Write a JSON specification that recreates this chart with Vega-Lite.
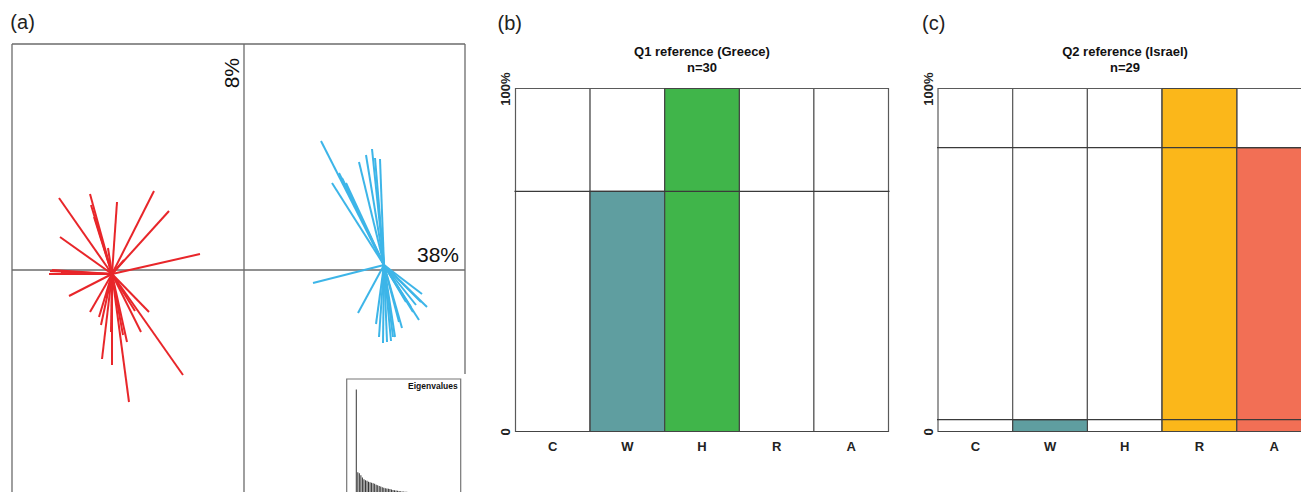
{
  "$schema": "https://vega.github.io/schema/vega-lite/v6.json",
  "padding": {"left": 10, "top": 13, "right": 0, "bottom": 0},
  "spacing": 30.5,
  "background": "white",
  "config": {"view": {"stroke": null}, "font": "Liberation Sans"},
  "datasets": {
    "one": [{}],
    "loadings": [
      {"g": "Greece", "cx": -1.32, "cy": -0.04, "x": -1.85, "y": 0.72}, {"g": "Greece", "cx": -1.32, "cy": -0.04, "x": -1.54, "y": 0.76},
      {"g": "Greece", "cx": -1.32, "cy": -0.04, "x": -1.53, "y": 0.65}, {"g": "Greece", "cx": -1.32, "cy": -0.04, "x": -1.27, "y": 0.68},
      {"g": "Greece", "cx": -1.32, "cy": -0.04, "x": -0.90, "y": 0.79}, {"g": "Greece", "cx": -1.32, "cy": -0.04, "x": -0.75, "y": 0.59},
      {"g": "Greece", "cx": -1.32, "cy": -0.04, "x": -1.84, "y": 0.33}, {"g": "Greece", "cx": -1.32, "cy": -0.04, "x": -0.44, "y": 0.16},
      {"g": "Greece", "cx": -1.32, "cy": -0.04, "x": -1.94, "y": -0.01}, {"g": "Greece", "cx": -1.32, "cy": -0.04, "x": -1.92, "y": 0.00},
      {"g": "Greece", "cx": -1.32, "cy": -0.04, "x": -1.95, "y": -0.04}, {"g": "Greece", "cx": -1.32, "cy": -0.04, "x": -1.75, "y": -0.26},
      {"g": "Greece", "cx": -1.32, "cy": -0.04, "x": -1.54, "y": -0.42}, {"g": "Greece", "cx": -1.32, "cy": -0.04, "x": -1.45, "y": -0.47},
      {"g": "Greece", "cx": -1.32, "cy": -0.04, "x": -1.43, "y": -0.55}, {"g": "Greece", "cx": -1.32, "cy": -0.04, "x": -1.42, "y": -0.89},
      {"g": "Greece", "cx": -1.32, "cy": -0.04, "x": -1.32, "y": -0.95}, {"g": "Greece", "cx": -1.32, "cy": -0.04, "x": -1.15, "y": -1.32},
      {"g": "Greece", "cx": -1.32, "cy": -0.04, "x": -1.17, "y": -0.72}, {"g": "Greece", "cx": -1.32, "cy": -0.04, "x": -1.21, "y": -0.65},
      {"g": "Greece", "cx": -1.32, "cy": -0.04, "x": -0.95, "y": -0.42}, {"g": "Greece", "cx": -1.32, "cy": -0.04, "x": -1.09, "y": -0.41},
      {"g": "Greece", "cx": -1.32, "cy": -0.04, "x": -0.61, "y": -1.05}, {"g": "Greece", "cx": -1.32, "cy": -0.04, "x": -1.36, "y": 0.22},
      {"g": "Greece", "cx": -1.32, "cy": -0.04, "x": -1.20, "y": 0.10}, {"g": "Greece", "cx": -1.32, "cy": -0.04, "x": -1.50, "y": 0.53},
      {"g": "Greece", "cx": -1.32, "cy": -0.04, "x": -1.33, "y": -0.62}, {"g": "Greece", "cx": -1.32, "cy": -0.04, "x": -1.83, "y": -0.03},
      {"g": "Greece", "cx": -1.32, "cy": -0.04, "x": -1.03, "y": -0.62}, {"g": "Greece", "cx": -1.32, "cy": -0.04, "x": -1.38, "y": -0.28},
      {"g": "Israel", "cx": 1.40, "cy": 0.05, "x": 0.77, "y": 1.29}, {"g": "Israel", "cx": 1.40, "cy": 0.05, "x": 1.28, "y": 1.21},
      {"g": "Israel", "cx": 1.40, "cy": 0.05, "x": 1.22, "y": 1.15}, {"g": "Israel", "cx": 1.40, "cy": 0.05, "x": 1.15, "y": 1.08},
      {"g": "Israel", "cx": 1.40, "cy": 0.05, "x": 1.36, "y": 1.11}, {"g": "Israel", "cx": 1.40, "cy": 0.05, "x": 0.95, "y": 0.97},
      {"g": "Israel", "cx": 1.40, "cy": 0.05, "x": 0.88, "y": 0.87}, {"g": "Israel", "cx": 1.40, "cy": 0.05, "x": 0.69, "y": -0.13},
      {"g": "Israel", "cx": 1.40, "cy": 0.05, "x": 1.14, "y": -0.43}, {"g": "Israel", "cx": 1.40, "cy": 0.05, "x": 1.32, "y": -0.54},
      {"g": "Israel", "cx": 1.40, "cy": 0.05, "x": 1.39, "y": -0.73}, {"g": "Israel", "cx": 1.40, "cy": 0.05, "x": 1.47, "y": -0.71},
      {"g": "Israel", "cx": 1.40, "cy": 0.05, "x": 1.51, "y": -0.67}, {"g": "Israel", "cx": 1.40, "cy": 0.05, "x": 1.58, "y": -0.58},
      {"g": "Israel", "cx": 1.40, "cy": 0.05, "x": 1.75, "y": -0.50}, {"g": "Israel", "cx": 1.40, "cy": 0.05, "x": 1.83, "y": -0.37},
      {"g": "Israel", "cx": 1.40, "cy": 0.05, "x": 1.78, "y": -0.24}, {"g": "Israel", "cx": 1.40, "cy": 0.05, "x": 1.72, "y": -0.35},
      {"g": "Israel", "cx": 1.40, "cy": 0.05, "x": 1.31, "y": 1.12}, {"g": "Israel", "cx": 1.40, "cy": 0.05, "x": 0.98, "y": 0.92},
      {"g": "Israel", "cx": 1.40, "cy": 0.05, "x": 1.67, "y": -0.37}, {"g": "Israel", "cx": 1.40, "cy": 0.05, "x": 1.62, "y": -0.32},
      {"g": "Israel", "cx": 1.40, "cy": 0.05, "x": 1.55, "y": -0.52}, {"g": "Israel", "cx": 1.40, "cy": 0.05, "x": 1.43, "y": -0.72},
      {"g": "Israel", "cx": 1.40, "cy": 0.05, "x": 1.02, "y": 0.87}, {"g": "Israel", "cx": 1.40, "cy": 0.05, "x": 1.69, "y": -0.42},
      {"g": "Israel", "cx": 1.40, "cy": 0.05, "x": 1.77, "y": -0.32}, {"g": "Israel", "cx": 1.40, "cy": 0.05, "x": 1.49, "y": -0.67},
      {"g": "Israel", "cx": 1.40, "cy": 0.05, "x": 1.35, "y": -0.67}
    ],
    "eigen": [
      {"k": 1, "ev": 38}, {"k": 2, "ev": 8.0}, {"k": 3, "ev": 7.6}, {"k": 4, "ev": 6.9}, {"k": 5, "ev": 6.1},
      {"k": 6, "ev": 5.5}, {"k": 7, "ev": 5.1}, {"k": 8, "ev": 4.9}, {"k": 9, "ev": 4.6}, {"k": 10, "ev": 4.4},
      {"k": 11, "ev": 4.2}, {"k": 12, "ev": 4.0}, {"k": 13, "ev": 3.8}, {"k": 14, "ev": 3.5}, {"k": 15, "ev": 3.3},
      {"k": 16, "ev": 3.0}, {"k": 17, "ev": 2.8}, {"k": 18, "ev": 2.6}, {"k": 19, "ev": 2.4}, {"k": 20, "ev": 2.2},
      {"k": 21, "ev": 2.1}, {"k": 22, "ev": 2.0}, {"k": 23, "ev": 1.9}, {"k": 24, "ev": 1.7}, {"k": 25, "ev": 1.6},
      {"k": 26, "ev": 1.5}, {"k": 27, "ev": 1.4}, {"k": 28, "ev": 1.3}, {"k": 29, "ev": 1.2}, {"k": 30, "ev": 1.1},
      {"k": 31, "ev": 1.05}, {"k": 32, "ev": 1.0}, {"k": 33, "ev": 0.95}, {"k": 34, "ev": 0.9}, {"k": 35, "ev": 0.85},
      {"k": 36, "ev": 0.8}, {"k": 37, "ev": 0.78}, {"k": 38, "ev": 0.75}, {"k": 39, "ev": 0.72}, {"k": 40, "ev": 0.7},
      {"k": 41, "ev": 0.68}, {"k": 42, "ev": 0.66}, {"k": 43, "ev": 0.64}, {"k": 44, "ev": 0.62}, {"k": 45, "ev": 0.6},
      {"k": 46, "ev": 0.58}, {"k": 47, "ev": 0.56}, {"k": 48, "ev": 0.54}, {"k": 49, "ev": 0.52}, {"k": 50, "ev": 0.5},
      {"k": 51, "ev": 0.48}, {"k": 52, "ev": 0.46}, {"k": 53, "ev": 0.44}, {"k": 54, "ev": 0.42}, {"k": 55, "ev": 0.4}
    ],
    "q1": [
      {"cat": "C", "pct": 0}, {"cat": "W", "pct": 70}, {"cat": "H", "pct": 100}, {"cat": "R", "pct": 0}, {"cat": "A", "pct": 0}
    ],
    "q1ref": [{"level": 70}],
    "q2": [
      {"cat": "C", "pct": 0}, {"cat": "W", "pct": 3.45}, {"cat": "H", "pct": 0}, {"cat": "R", "pct": 100}, {"cat": "A", "pct": 82.76}
    ],
    "q2ref": [{"level": 82.76}, {"level": 3.45}]
  },
  "hconcat": [
    {
      "width": 453,
      "height": 449,
      "title": {"text": "(a)", "anchor": "start", "fontSize": 20, "fontWeight": "normal", "color": "#222", "offset": 10, "dx": -1},
      "data": {"name": "one"},
      "layer": [
        {"mark": {"type": "rule", "color": "#6b6b6b", "strokeWidth": 1.3},
         "encoding": {"y": {"datum": 2.26, "type": "quantitative", "scale": {"domain": [-2.23, 2.26], "nice": false, "zero": false}, "axis": null}}},
        {"mark": {"type": "rule", "color": "#6b6b6b", "strokeWidth": 1.3},
         "encoding": {"x": {"datum": -2.32, "type": "quantitative", "scale": {"domain": [-2.32, 2.21], "nice": false, "zero": false}, "axis": null}}},
        {"mark": {"type": "rule", "color": "#6b6b6b", "strokeWidth": 1.3},
         "encoding": {"x": {"datum": 2.21, "type": "quantitative", "scale": {"domain": [-2.32, 2.21], "nice": false, "zero": false}, "axis": null},
                      "y": {"datum": -1.04, "type": "quantitative", "scale": {"domain": [-2.23, 2.26], "nice": false, "zero": false}, "axis": null},
                      "y2": {"datum": 2.26}}},
        {"mark": {"type": "rule", "color": "#6b6b6b", "strokeWidth": 1.3},
         "encoding": {"x": {"datum": 0, "type": "quantitative", "scale": {"domain": [-2.32, 2.21], "nice": false, "zero": false}, "axis": null}}},
        {"mark": {"type": "rule", "color": "#6b6b6b", "strokeWidth": 1.3},
         "encoding": {"y": {"datum": 0, "type": "quantitative", "scale": {"domain": [-2.23, 2.26], "nice": false, "zero": false}, "axis": null}}},
        {"data": {"name": "loadings"},
         "mark": {"type": "rule", "strokeWidth": 2},
         "encoding": {
           "x": {"field": "cx", "type": "quantitative", "scale": {"domain": [-2.32, 2.21], "nice": false, "zero": false}, "axis": null},
           "y": {"field": "cy", "type": "quantitative", "scale": {"domain": [-2.23, 2.26], "nice": false, "zero": false}, "axis": null},
           "x2": {"field": "x"},
           "y2": {"field": "y"},
           "color": {"field": "g", "type": "nominal", "scale": {"domain": ["Greece", "Israel"], "range": ["#e8262a", "#3db5e8"]}, "legend": null}
         }},
        {"mark": {"type": "text", "angle": 270, "align": "right", "baseline": "alphabetic", "dx": -14, "dy": -5, "fontSize": 21, "color": "#111"},
         "encoding": {"x": {"datum": 0, "type": "quantitative", "scale": {"domain": [-2.32, 2.21], "nice": false, "zero": false}, "axis": null},
                      "y": {"datum": 2.26, "type": "quantitative", "scale": {"domain": [-2.23, 2.26], "nice": false, "zero": false}, "axis": null},
                      "text": {"value": "8%"}}},
        {"mark": {"type": "text", "align": "right", "baseline": "alphabetic", "dx": -6, "dy": -8, "fontSize": 21, "color": "#111"},
         "encoding": {"x": {"datum": 2.21, "type": "quantitative", "scale": {"domain": [-2.32, 2.21], "nice": false, "zero": false}, "axis": null},
                      "y": {"datum": 0, "type": "quantitative", "scale": {"domain": [-2.23, 2.26], "nice": false, "zero": false}, "axis": null},
                      "text": {"value": "38%"}}},
        {"mark": {"type": "rect", "fill": "white", "stroke": "#777", "strokeWidth": 1.2, "clip": true},
         "encoding": {
           "x": {"datum": -2, "type": "quantitative", "scale": {"domain": [-2, 66], "range": [334.7, 448.7], "nice": false, "zero": false}, "axis": null},
           "x2": {"datum": 66},
           "y": {"datum": -10, "type": "quantitative", "scale": {"domain": [0, 41.85], "range": [450.3, 335], "nice": false, "zero": false}, "axis": null},
           "y2": {"datum": 41.85}
         }},
        {"data": {"name": "eigen"},
         "mark": {"type": "bar", "color": "#333", "width": 1, "clip": true},
         "encoding": {
           "x": {"field": "k", "type": "quantitative", "scale": {"domain": [-2, 66], "range": [334.7, 448.7], "nice": false, "zero": false}, "axis": null},
           "y": {"field": "ev", "type": "quantitative", "scale": {"domain": [0, 41.85], "range": [450.3, 335], "nice": false, "zero": false}, "axis": null}
         }},
        {"mark": {"type": "text", "align": "right", "baseline": "top", "dx": -3, "dy": 3, "fontSize": 8.5, "fontWeight": "bold", "color": "#111"},
         "encoding": {"x": {"datum": 66, "type": "quantitative", "scale": {"domain": [-2, 66], "range": [334.7, 448.7], "nice": false, "zero": false}, "axis": null},
                      "y": {"datum": 41.85, "type": "quantitative", "scale": {"domain": [0, 41.85], "range": [450.3, 335], "nice": false, "zero": false}, "axis": null},
                      "text": {"value": "Eigenvalues"}}}
      ],
      "resolve": {"scale": {"x": "independent", "y": "independent"}}
    },
    {
      "title": {"text": "(b)", "anchor": "start", "fontSize": 20, "fontWeight": "normal", "color": "#222", "offset": 10, "dx": -2},
      "spacing": -3.5,
      "vconcat": [
        {
          "width": 375,
          "height": 1,
          "title": {"text": ["Q1 reference (Greece)", "n=30"], "orient": "bottom", "anchor": "middle", "frame": "group", "fontSize": 13, "fontWeight": "bold", "color": "#111", "lineHeight": 15.5, "offset": 1},
          "data": {"values": []},
          "mark": "rect",
          "encoding": {}
        },
        {
          "width": 375,
          "height": 345,
          "data": {"name": "q1"},
          "layer": [
            {"mark": {"type": "bar", "fill": "white", "stroke": "#5a5a5a", "strokeWidth": 1.2},
             "encoding": {
               "x": {"field": "cat", "type": "nominal", "scale": {"domain": ["C", "W", "H", "R", "A"], "range": [1, 374], "paddingInner": 0, "paddingOuter": 0},
                     "axis": {"labelAngle": 0, "labelFontSize": 13, "labelFontWeight": "bold", "labelColor": "#222", "labelPadding": 8, "labelBaseline": "top", "ticks": false, "tickSize": 0, "domain": false, "grid": false, "title": null}},
               "y": {"datum": 100, "type": "quantitative", "scale": {"domain": [0, 100], "range": [344, 1], "nice": false, "zero": false},
                     "axis": {"values": [0, 100], "labelExpr": "datum.value == 100 ? '100%' : '0'", "labelAngle": 270, "labelAlign": "center", "labelBaseline": "alphabetic", "labelFlush": false, "labelFontSize": 13, "labelFontWeight": "bold", "labelColor": "#222", "labelPadding": 5, "ticks": false, "tickSize": 0, "domain": false, "grid": false, "title": null}}
             }},
            {"mark": {"type": "bar", "stroke": "#444", "strokeWidth": 1.2},
             "encoding": {
               "x": {"field": "cat", "type": "nominal"},
               "y": {"field": "pct", "type": "quantitative"},
               "fill": {"field": "cat", "type": "nominal", "scale": {"domain": ["C", "W", "H", "R", "A"], "range": ["#ffffff", "#5f9ea0", "#40b54a", "#fbb71a", "#f26f55"]}, "legend": null}
             }},
            {"data": {"name": "q1ref"},
             "mark": {"type": "rule", "color": "#3a3a3a", "strokeWidth": 1.2},
             "encoding": {"y": {"field": "level", "type": "quantitative"}}}
          ]
        }
      ]
    },
    {
      "title": {"text": "(c)", "anchor": "start", "fontSize": 20, "fontWeight": "normal", "color": "#222", "offset": 10, "dx": 0},
      "spacing": -3.5,
      "vconcat": [
        {
          "width": 364,
          "height": 1,
          "title": {"text": ["Q2 reference (Israel)", "n=29"], "orient": "bottom", "anchor": "middle", "frame": "group", "fontSize": 13, "fontWeight": "bold", "color": "#111", "lineHeight": 15.5, "offset": 1, "dx": 6},
          "data": {"values": []},
          "mark": "rect",
          "encoding": {}
        },
        {
          "width": 364,
          "height": 345,
          "data": {"name": "q2"},
          "layer": [
            {"mark": {"type": "bar", "fill": "white", "stroke": "#5a5a5a", "strokeWidth": 1.2, "clip": true},
             "encoding": {
               "x": {"field": "cat", "type": "nominal", "scale": {"domain": ["C", "W", "H", "R", "A"], "range": [1, 374.5], "paddingInner": 0, "paddingOuter": 0},
                     "axis": {"labelAngle": 0, "labelFontSize": 13, "labelFontWeight": "bold", "labelColor": "#222", "labelPadding": 8, "labelBaseline": "top", "ticks": false, "tickSize": 0, "domain": false, "grid": false, "title": null}},
               "y": {"datum": 100, "type": "quantitative", "scale": {"domain": [0, 100], "range": [344, 1], "nice": false, "zero": false},
                     "axis": {"values": [0, 100], "labelExpr": "datum.value == 100 ? '100%' : '0'", "labelAngle": 270, "labelAlign": "center", "labelBaseline": "alphabetic", "labelFlush": false, "labelFontSize": 13, "labelFontWeight": "bold", "labelColor": "#222", "labelPadding": 5, "ticks": false, "tickSize": 0, "domain": false, "grid": false, "title": null}}
             }},
            {"mark": {"type": "bar", "stroke": "#444", "strokeWidth": 1.2, "clip": true},
             "encoding": {
               "x": {"field": "cat", "type": "nominal"},
               "y": {"field": "pct", "type": "quantitative"},
               "fill": {"field": "cat", "type": "nominal", "scale": {"domain": ["C", "W", "H", "R", "A"], "range": ["#ffffff", "#5f9ea0", "#40b54a", "#fbb71a", "#f26f55"]}, "legend": null}
             }},
            {"data": {"name": "q2ref"},
             "mark": {"type": "rule", "color": "#3a3a3a", "strokeWidth": 1.2},
             "encoding": {"y": {"field": "level", "type": "quantitative"}}}
          ]
        }
      ]
    }
  ]
}
